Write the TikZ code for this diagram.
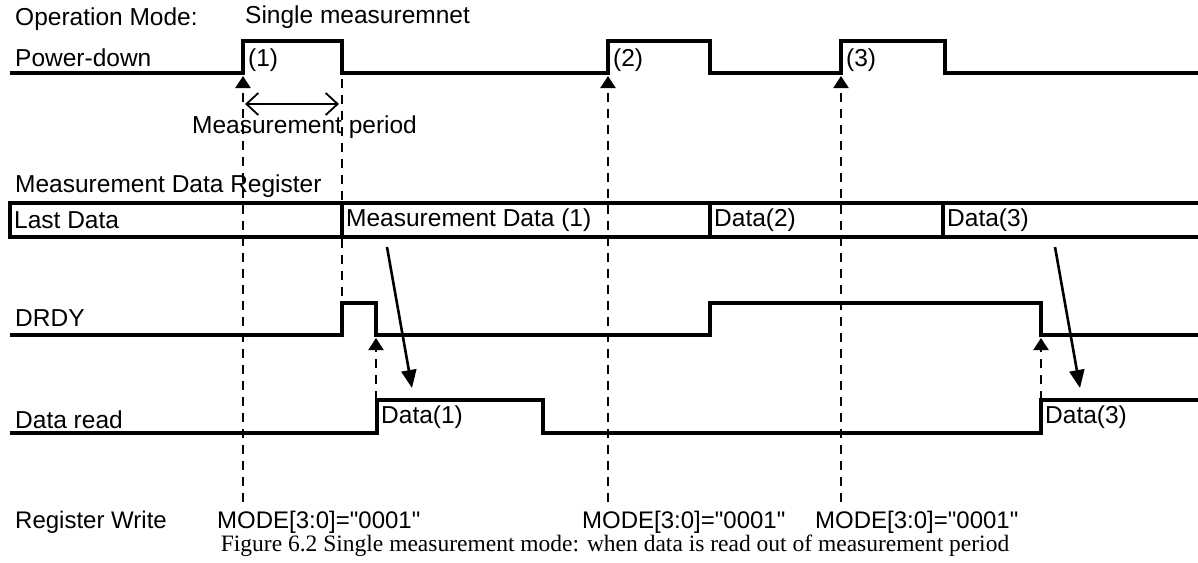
\documentclass[tikz,border=0pt]{standalone}
\usepackage{fontspec}
\setmainfont{Liberation Sans}[Ligatures=TeXOff]
\newfontfamily\capfont{Liberation Serif}
\usetikzlibrary{arrows.meta}

\begin{document}
\begin{tikzpicture}[x=1pt, y=-1pt,
        wave/.style = {line width=4.8pt, line join=miter},
        guide/.style = {line width=2.2pt, dash pattern=on 9pt off 7pt},
        trig/.style = {-{Triangle[width=15pt,length=12pt]}},
        readarrow/.style = {line width=2.6pt, -{Triangle[width=15pt,length=18pt]}},
        txt/.style = {anchor=west, inner sep=0pt, font=\fontsize{24.5}{29}\selectfont},
        wtxt/.style = {anchor=west, inner sep=0pt, font=\fontsize{24}{28}\selectfont}]
    \useasboundingbox (0,0) rectangle (1198,562);

    % labels
    \node[txt] (opmode) at (15,19) {Operation Mode:};
    \node[txt] (single) at (245,17) {Single measuremnet};
    \node[txt] (pdlabel) at (15,58) {Power-down};
    \node[txt] (mdrlabel) at (15,186) {Measurement Data Register};
    \node[txt] (drdylabel) at (15,318) {DRDY};
    \node[txt] (readlabel) at (15,420) {Data read};
    \node[wtxt] (rwlabel) at (15,522) {Register Write};

    % power-down waveform
    \draw[wave] (10,73) -- (243,73) -- (243,41) -- (342,41) -- (342,73) -- (608,73) -- (608,41)
        -- (710,41) -- (710,73) -- (841,73) -- (841,41) -- (945,41) -- (945,73) -- (1198,73);
    \node[txt] (m1) at (248,60) {(1)};
    \node[txt] (m2) at (613,60) {(2)};
    \node[txt] (m3) at (846,60) {(3)};

    % measurement period
    \coordinate (p1) at (245,104);
    \coordinate (p2) at (339,104);
    \draw[line width=1.8pt, {Straight Barb[length=12pt,width=22pt]}-{Straight Barb[length=12pt,width=22pt]}] (p1) -- (p2);
    \node[txt] (period) at (192,127) {Measurement period};

    % register bus
    \draw[wave] (1198,203) -- (10,203) -- (10,237) -- (1198,237);
    \foreach \x in {342,710,943}
        \draw[wave] (\x,203) -- (\x,237);
    \node[txt] (d0) at (14,220) {Last Data};
    \node[txt] (d1) at (346,220) {Measurement Data (1)};
    \node[txt] (d2) at (714,220) {Data(2)};
    \node[txt] (d3) at (947,220) {Data(3)};

    % DRDY
    \draw[wave] (10,335) -- (342,335) -- (342,303) -- (376,303) -- (376,335) -- (710,335) -- (710,303)
        -- (1041,303) -- (1041,335) -- (1198,335);

    % data read
    \draw[wave] (10,433) -- (377,433) -- (377,400) -- (543,400) -- (543,433) -- (1041,433)
        -- (1041,400) -- (1198,400);
    \node[txt] (r1) at (381,417) {Data(1)};
    \node[txt] (r3) at (1045,417) {Data(3)};

    % register writes
    \node[wtxt] (w1) at (217,522) {MODE[3:0]="0001"};
    \node[wtxt] (w2) at (582,522) {MODE[3:0]="0001"};
    \node[wtxt] (w3) at (815,522) {MODE[3:0]="0001"};
    \foreach \n/\x in {1/243,2/608,3/841} {
        \coordinate (wb\n) at (\x,502);
        \coordinate (wt\n) at (\x,76);
        \draw[guide, trig] (wb\n) -- (wt\n);
    }
    \coordinate (e1) at (342,79);
    \coordinate (e2) at (342,303);
    \draw[guide] (e1) -- (e2);

    % DRDY to data read
    \foreach \n/\x in {1/376,2/1041} {
        \coordinate (rb\n) at (\x,400);
        \coordinate (rt\n) at (\x,338);
        \draw[guide, trig] (rb\n) -- (rt\n);
    }
    \coordinate (s1) at (387,247);
    \coordinate (s2) at (412,388);
    \coordinate (s3) at (1055,247);
    \coordinate (s4) at (1080,388);
    \draw[readarrow] (s1) -- (s2);
    \draw[readarrow] (s3) -- (s4);

    % caption
    \node[inner sep=0pt, font=\capfont\fontsize{23.5}{28}\selectfont] (caption) at (615,546)
        {Figure 6.2 Single measurement mode: when data is read out of measurement period};
\end{tikzpicture}
\end{document}
